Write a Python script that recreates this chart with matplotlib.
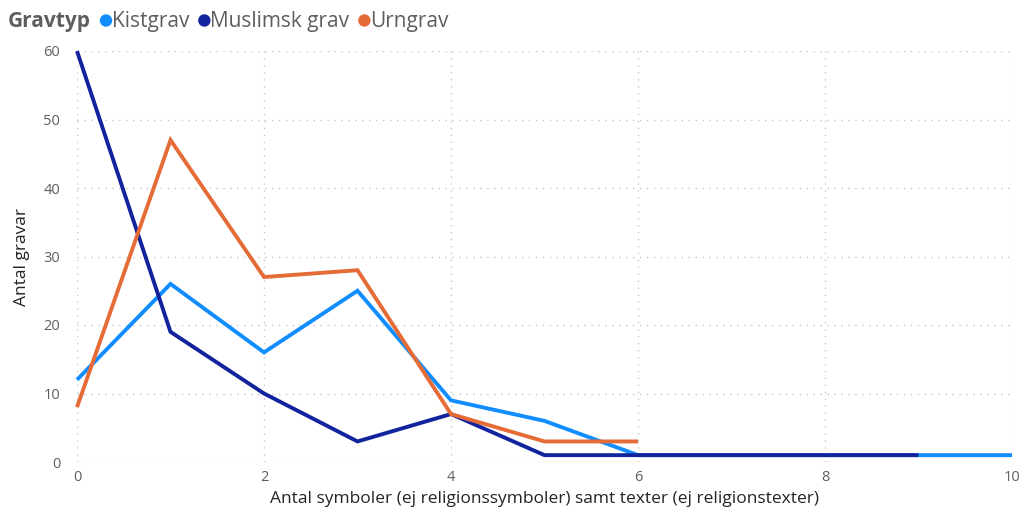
import matplotlib
matplotlib.use("Agg")
import matplotlib.pyplot as plt

x_kist = [0, 1, 2, 3, 4, 5, 6, 7, 8, 9, 10]
kistgrav = [12, 26, 16, 25, 9, 6, 1, 1, 1, 1, 1]
x_musl = [0, 1, 2, 3, 4, 5, 6, 7, 8, 9]
muslimsk = [60, 19, 10, 3, 7, 1, 1, 1, 1, 1]
x_urn = [0, 1, 2, 3, 4, 5, 6]
urngrav = [8, 47, 27, 28, 7, 3, 3]

series_names = ["Kistgrav", "Muslimsk grav", "Urngrav"]
colors = ["#118DFF", "#12239E", "#E66C37"]
legend_title = "Gravtyp"
x_ticks = [0, 2, 4, 6, 8, 10]
y_ticks = [0, 10, 20, 30, 40, 50, 60]

FONT = ["Open Sans", "DejaVu Sans"]
plt.rcParams['font.family'] = FONT

fig = plt.figure(figsize=(10.19, 5.09), dpi=100)
ax = fig.add_axes([77/1019, 1-462/509, (1012-77)/1019, (462-51)/509])

for xs, ys, c in zip([x_kist, x_musl, x_urn], [kistgrav, muslimsk, urngrav], colors):
    ax.plot(xs, ys, color=c, lw=2.8, solid_capstyle='butt', solid_joinstyle='miter', clip_on=False)

ax.set_xlim(0, 10)
ax.set_ylim(0, 60)
ax.set_xticks(x_ticks)
ax.set_yticks(y_ticks)
for s in ax.spines.values():
    s.set_visible(False)
ax.tick_params(length=0, colors="#605E5C", labelsize=10.5)
ax.tick_params(axis='x', pad=6)
ax.tick_params(axis='y', pad=12)
ax.grid(True, color="#C8C6C4", linestyle=(0, (1, 4)), linewidth=1)
ax.set_axisbelow(True)
ax.set_xlabel("Antal symboler (ej religionssymboler) samt texter (ej religionstexter)",
              fontsize=12.5, color="#252423", labelpad=4, fontweight='medium')
ax.set_ylabel("Antal gravar", fontsize=12.5, color="#252423", labelpad=10, fontweight='medium')

# Legend
fig.canvas.draw()
r = fig.canvas.get_renderer()
y_leg = 1 - 21/509
t = fig.text(8/1019, y_leg, legend_title, fontsize=15, fontweight='bold', color="#605E5C", va='center')
xpos = t.get_window_extent(r).x1 + 15
for name, c in zip(series_names, colors):
    fig.patches.append(matplotlib.patches.Ellipse((xpos/1019, y_leg + 0.001), 11/1019, 11/509,
                                                  transform=fig.transFigure, color=c, figure=fig))
    tt = fig.text((xpos + 6)/1019, y_leg, name, fontsize=15, color="#605E5C", va='center')
    xpos = tt.get_window_extent(r).x1 + 15

fig.savefig("out.png", dpi=100)
